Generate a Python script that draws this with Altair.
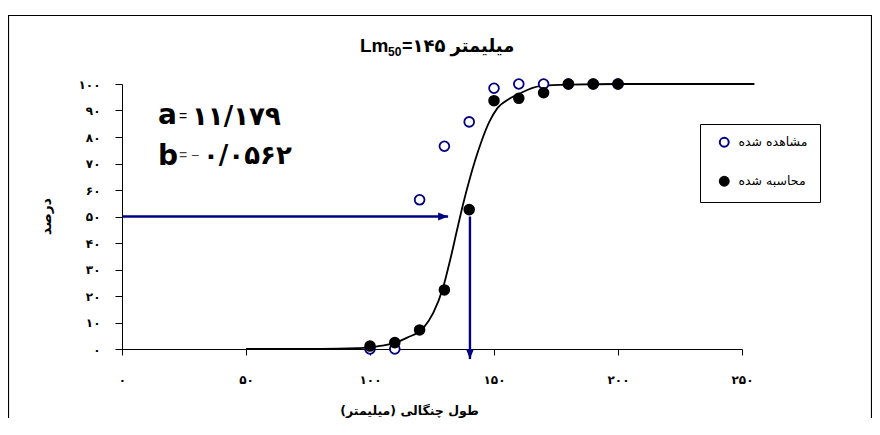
import altair as alt
import pandas as pd

# ---------------- data ----------------
lengths = [100, 110, 120, 130, 140, 150, 160, 170, 180, 190, 200]
observed = [0, 0, 56.3, 76.5, 85.7, 98.4, 100, 100, 100, 100, 100]
calculated = [1.1, 2.4, 7.2, 22.3, 52.6, 93.7, 94.6, 96.7, 100, 100, 100]

curve_len = [50, 80, 95, 100, 105, 110, 115, 121.5, 125.5, 129.6, 132.3, 135,
             137.5, 140, 142.5, 145, 148, 151.3, 156.5, 160.5, 168.5, 180, 200, 230, 255]
curve_pct = [0, 0, 0.3, 0.7, 1.3, 2.3, 4.3, 7.9, 13.6, 23.6, 33.5, 44.5,
             54.5, 63.5, 71.5, 78.5, 85.5, 90.8, 94.6, 96.5, 99.2, 99.8, 100, 100, 100]

series_names = ["مشاهده شده", "محاسبه شده"]

x_ticks = [0, 50, 100, 150, 200, 250]
x_tick_labels = ["۰", "۵۰", "۱۰۰", "۱۵۰", "۲۰۰", "۲۵۰"]
y_ticks = [0, 10, 20, 30, 40, 50, 60, 70, 80, 90, 100]
y_tick_labels = ["۰", "۱۰", "۲۰", "۳۰", "۴۰", "۵۰", "۶۰", "۷۰", "۸۰", "۹۰", "۱۰۰"]

title_parts = ["Lm", "50", "=۱۴۵ میلیمتر"]
x_title = "طول چنگالی (میلیمتر)\u200f"
y_title = "درصد"

a_parts = ["a", "=", "۱۱/۱۷۹"]
b_parts = ["b", "= −", "۰/۰۵۶۲"]

arrow_level = [50]
arrow_h_from = [0]
arrow_h_to = [131.5]
arrow_v_x = [140.3]
arrow_v_to = [-3.8]

# ---------------- styling ----------------
NAVY = "#000080"
LATIN = "Liberation Sans, Arial, DejaVu Sans"
PERS = "DejaVu Sans"

xs = alt.Scale(domain=[0, 250], nice=False, zero=False)
ys = alt.Scale(domain=[0, 100], nice=False, zero=False)


def label_expr(vals, labels):
    e = "''"
    for v, l in reversed(list(zip(vals, labels))):
        e = f"datum.value == {v} ? '{l}' : ({e})"
    return e


x_axis = alt.Axis(values=x_ticks, labelExpr=label_expr(x_ticks, x_tick_labels),
                  title=x_title, titleFont=PERS, titleFontSize=12.5, titleFontWeight="bold",
                  titleColor="black", titleX=287, titleY=61, titleBaseline="middle",
                  titleAlign="center",
                  labelFont=PERS, labelFontSize=12, labelFontWeight="bold", labelColor="black",
                  labelPadding=19, tickSize=6, tickColor="black", domainColor="black",
                  grid=False, labelFlush=False, labelOverlap=False)
y_axis = alt.Axis(values=y_ticks, labelExpr=label_expr(y_ticks, y_tick_labels),
                  title=y_title, titleFont=PERS, titleFontSize=14, titleFontWeight="bold",
                  titleColor="black", titleX=-76, titleY=132, titleAngle=270,
                  titleBaseline="middle", titleAlign="center",
                  labelFont=PERS, labelFontSize=12, labelFontWeight="bold", labelColor="black",
                  labelPadding=15, tickSize=7, tickColor="black", domainColor="black",
                  grid=False, labelFlush=False, labelOverlap=False)


def X(field):
    return alt.X(field, scale=xs, axis=x_axis)


def Y(field):
    return alt.Y(field, scale=ys, axis=y_axis)


# ---------------- layers ----------------
border = alt.Chart(pd.DataFrame({"k": [0]})).mark_rect(
    fill="transparent", stroke="black", strokeWidth=1.2
).encode(x=alt.value(-113.5), x2=alt.value(749.5), y=alt.value(-68.5), y2=alt.value(400))

curve_df = pd.DataFrame({"len": curve_len, "pct": curve_pct})
curve = alt.Chart(curve_df).mark_line(color="black", strokeWidth=1.8, interpolate="monotone").encode(
    x=X("len:Q"), y=Y("pct:Q"))

h_df = pd.DataFrame({"x": arrow_h_from, "x2": arrow_h_to, "y": arrow_level})
h_rule = alt.Chart(h_df).mark_rule(color=NAVY, strokeWidth=2.4).encode(
    x=X("x:Q"), x2="x2:Q", y=Y("y:Q"))
h_head = alt.Chart(h_df).mark_point(shape="M0,0L-2,-0.8L-2,0.8Z", filled=True, size=100,
                                    color=NAVY, opacity=1).encode(x=X("x2:Q"), y=Y("y:Q"))

v_df = pd.DataFrame({"x": arrow_v_x, "y": arrow_level, "y2": arrow_v_to})
v_rule = alt.Chart(v_df).mark_rule(color=NAVY, strokeWidth=2.4).encode(
    x=X("x:Q"), y=Y("y:Q"), y2="y2:Q")
v_head = alt.Chart(v_df).mark_point(shape="M0,0L-0.8,-2L0.8,-2Z", filled=True, size=100,
                                    color=NAVY, opacity=1).encode(x=X("x:Q"), y=Y("y2:Q"))

pts_df = pd.DataFrame({
    "len": lengths + lengths,
    "pct": observed + calculated,
    "series": [series_names[0]] * len(lengths) + [series_names[1]] * len(lengths),
})
leg = dict(title=None, orient="none", legendX=578, legendY=40, strokeColor="black",
           fillColor="white", padding=12, symbolOffset=6, rowPadding=21,
           labelFont=PERS, labelFontSize=12.5, labelColor="black", labelOffset=8,
           symbolSize=80, symbolStrokeWidth=2, symbolType="circle", labelLimit=200)
points = alt.Chart(pts_df).mark_point(shape="circle", size=95, strokeWidth=1.8, opacity=1).encode(
    x=X("len:Q"),
    y=Y("pct:Q"),
    fill=alt.Fill("series:N", scale=alt.Scale(domain=series_names, range=["white", "black"]),
                  legend=alt.Legend(**leg)),
    stroke=alt.Stroke("series:N", scale=alt.Scale(domain=series_names, range=[NAVY, "black"]),
                      legend=alt.Legend(**leg)),
)


def txt(s, x, y, size, weight, font, baseline="alphabetic", color="black", align="left"):
    return alt.Chart(pd.DataFrame({"t": [s]})).mark_text(
        align=align, baseline=baseline, fontSize=size, fontWeight=weight, font=font, color=color
    ).encode(x=alt.value(x), y=alt.value(y), text="t:N")


texts = [
    txt(title_parts[0], 238, -32, 19, "bold", LATIN),
    txt(title_parts[1], 266, -28, 12, "bold", LATIN),
    txt(title_parts[2], 280, -32, 18, "bold", LATIN),
    txt(a_parts[0], 36, 39.5, 28, "bold", PERS),
    txt(a_parts[1], 57, 33, 14, "normal", LATIN, baseline="middle"),
    txt(a_parts[2], 70, 40.5, 26, "bold", PERS),
    txt(b_parts[0], 36, 81, 28, "bold", PERS),
    txt(b_parts[1], 57, 72, 14, "normal", LATIN, baseline="middle", color="#444444"),
    txt(b_parts[2], 81, 80, 26, "bold", PERS),
]

chart = alt.layer(border, curve, h_rule, v_rule, h_head, v_head, points, *texts).properties(
    width=620, height=265,
    autosize=alt.AutoSizeParams(type="none"),
    padding={"left": 114, "top": 76, "right": 130, "bottom": 69},
).configure_view(stroke=None)

chart.save("out.html", embed_options={"renderer": "svg", "actions": False})
